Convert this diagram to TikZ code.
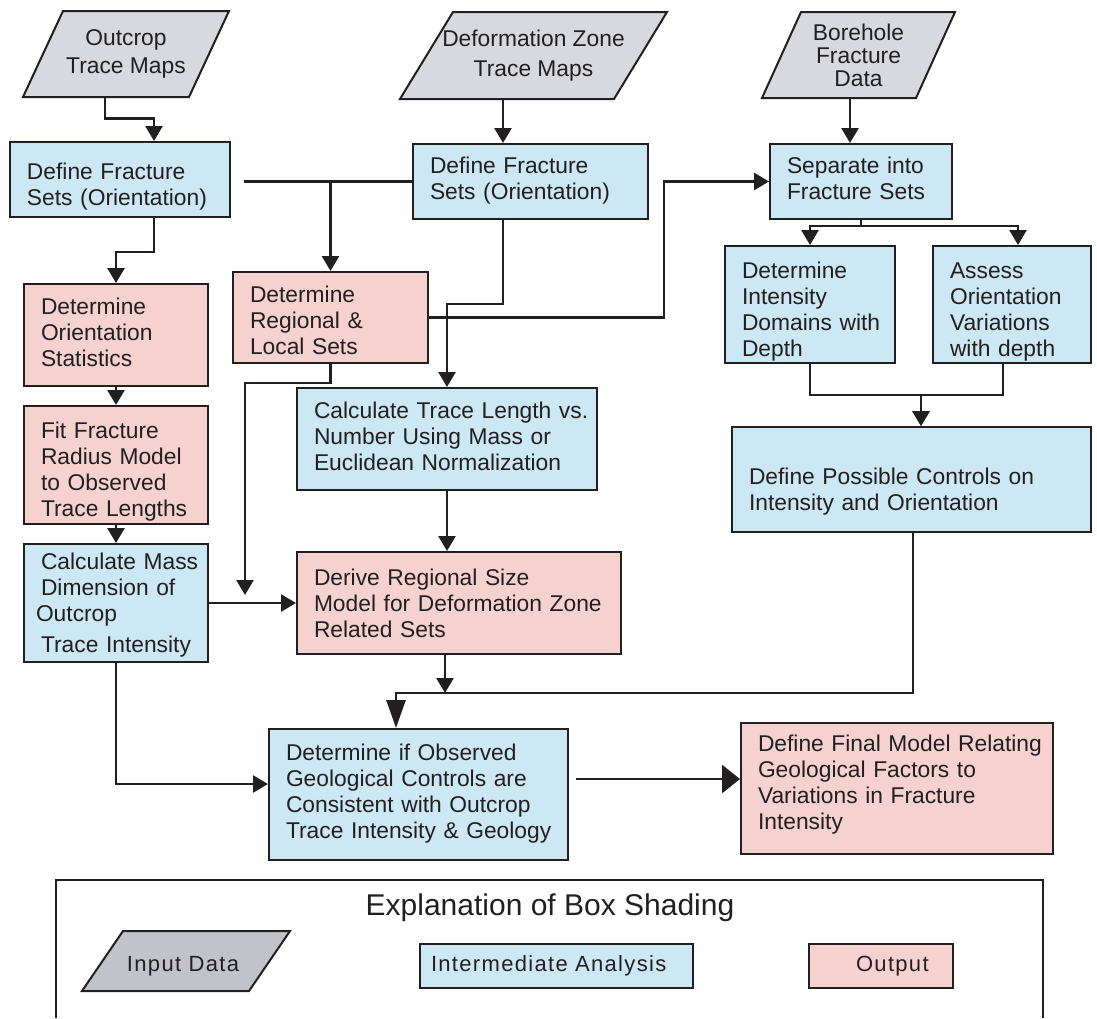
\documentclass[tikz,border=0pt]{standalone}
\usepackage{fontspec}
\setmainfont{Liberation Sans}
\usetikzlibrary{arrows.meta}
\definecolor{ink}{RGB}{35,31,32}
\definecolor{datagray}{RGB}{215,217,222}
\definecolor{keygray}{RGB}{192,195,201}
\definecolor{midblue}{RGB}{203,232,244}
\definecolor{outpink}{RGB}{245,209,208}
\newcommand{\boxfont}{\fontsize{22.8}{26}\selectfont}
\newcommand{\keyfont}{\fontsize{22}{26}\selectfont\addfontfeature{LetterSpace=6}}
\newcommand{\rows}[1]{\begin{tabular}{@{}l@{}}#1\end{tabular}}
\newcommand{\rowsdown}[2]{\raisebox{-#1}[\height][\depth]{\rows{#2}}}
\newcommand{\datanode}[8]{%
	\filldraw[fill=#1, boxline] (#3+#7,#4) -- (#3+#5,#4) -- (#3+#5-#7,#4+#6) -- (#3,#4+#6) -- cycle;
	\node[datatext, minimum width=#5, minimum height=#6] (#2) at (#3+#5/2,#4+#6/2) {#8};}
\tikzset{
	boxline/.style={draw=ink, line width=2pt},
	datatext/.style={inner sep=0pt, align=center, font=\boxfont, text=ink},
	midbox/.style={boxline, fill=midblue, anchor=north west, inner xsep=17pt, inner ysep=3pt, align=left, font=\boxfont, text=ink},
	outbox/.style={midbox, fill=outpink},
	wire/.style={draw=ink, line width=2.7pt},
	conn/.style={wire, -{Triangle[length=15pt,width=17pt]}},
}
\begin{document}
\begin{tikzpicture}[x=1pt, y=-1pt]
	\useasboundingbox (0,0) rectangle (1097,1018);
	
	\datanode{datagray}{in1}{23}{11}{206}{86}{40}{Outcrop\\[2pt]Trace Maps}
	\datanode{datagray}{in2}{400}{12}{267}{87}{53}{Deformation Zone\\[4pt]Trace Maps}
	\datanode{datagray}{in3}{762}{12}{193}{86}{39}{\rowsdown{3pt}{\hfil Borehole\\[-3pt]\hfil Fracture\\[-3pt]\hfil Data}}
	
	\node[midbox, text width=186pt, minimum height=75pt] (def1) at (9,141) {\rowsdown{8pt}{Define Fracture\\Sets (Orientation)}};
	\node[midbox, text width=201pt, minimum height=75pt] (def2) at (412,143) {\rows{Define Fracture\\Sets (Orientation)}};
	\node[midbox, text width=148pt, minimum height=75pt] (sep) at (769,143) {\rows{Separate into\\Fracture Sets}};
	
	\node[outbox, text width=150pt, minimum height=102pt] (ost) at (23,283) {\rows{Determine\\Orientation\\Statistics}};
	\node[outbox, text width=150pt, minimum height=118pt] (fit) at (23,405) {\rowsdown{7pt}{Fit Fracture\\Radius Model\\to Observed\\Trace Lengths}};
	\node[midbox, text width=150pt, minimum height=118pt] (mass) at (23,543) {\rowsdown{3pt}{Calculate Mass\\Dimension of\\\hspace*{-5pt}Outcrop\\[5pt]Trace Intensity}};
	
	\node[outbox, text width=161pt, minimum height=91pt] (reg) at (232,271) {\rowsdown{6pt}{Determine\\Regional \&\\Local Sets}};
	\node[midbox, text width=266pt, minimum height=102pt] (ctl) at (296,387) {\rows{Calculate Trace Length vs.\\Number Using Mass or\\Euclidean Normalization}};
	\node[outbox, text width=290pt, minimum height=102pt] (der) at (296,551) {\rowsdown{3pt}{Derive Regional Size\\Model for Deformation Zone\\Related Sets}};
	
	\node[midbox, text width=136pt, minimum height=117pt] (int) at (724,245) {\rowsdown{8pt}{Determine\\Intensity\\Domains with\\Depth}};
	\node[midbox, text width=124pt, minimum height=117pt] (ass) at (932,245) {\rowsdown{8pt}{Assess\\Orientation\\Variations\\with depth}};
	\node[midbox, text width=325pt, minimum height=105pt] (pos) at (731,426) {\rows{\mbox{}\\Define Possible Controls on\\Intensity and Orientation}};
	
	\node[midbox, text width=265pt, minimum height=131pt] (obs) at (268,728) {\rows{Determine if Observed\\Geological Controls are\\Consistent with Outcrop\\Trace Intensity \& Geology}};
	\node[outbox, text width=278pt, minimum height=131pt] (fin) at (740,722) {\rowsdown{-3pt}{Define Final Model Relating\\Geological Factors to\\Variations in Fracture\\Intensity}};
	
	\coordinate (lnd) at (245,595);
	
	\draw[conn] ([xshift=-21pt]in1.south) -- ++(0,21) -| ([xshift=34pt]def1.north);
	\draw[conn] ([xshift=-27.5pt]def2.north |- in2.south) -- ([xshift=-27.5pt]def2.north);
	\draw[conn] ([xshift=-11pt]sep.north |- in3.south) -- ([xshift=-11pt]sep.north);
	\draw[conn] ([xshift=34pt]def1.south) -- ++(0,34) -| (ost.north);
	\draw[conn] (ost.south) -- (fit.north);
	\draw[conn] (fit.south) -- (mass.north);
	\draw[wire] (def2.west) -- ([xshift=13pt]def1.east |- def2.west);
	\draw[conn] (reg.north |- def2.west) -- (reg.north);
	\draw[conn] ([xshift=-27.5pt]def2.south) -- ++(0,84) -| (ctl.north);
	\draw[conn] (reg.east) -- ++(235,0) |- (sep.west);
	\draw[conn] (reg.south) -- ++(0,19) -| (lnd);
	\draw[conn] (mass.east) -- (mass.east -| der.west);
	\draw[conn] (ctl.south) -- (ctl.south |- der.north);
	\draw[conn] ([xshift=-14pt]der.south) -- ++(0,38);
	\draw[conn] (sep.south) -- ++(0,6) -| (int.north);
	\draw[conn] (sep.south) -- ++(0,6) -| ([xshift=6pt]ass.north);
	\draw[conn] (int.south) -- ++(0,31) -| ([xshift=9.5pt]pos.north);
	\draw[conn] ([xshift=-9pt]ass.south) -- ++(0,31) -| ([xshift=9.5pt]pos.north);
	\draw[wire, -{Triangle[length=28pt,width=19pt]}] ([xshift=1.5pt]pos.south) -- ++(0,160) -| ([xshift=-22.5pt]obs.north);
	\draw[conn] (mass.south) |- ([yshift=10.5pt]obs.west);
	\draw[wire, -{Triangle[length=18pt,width=28pt]}] ([xshift=7pt,yshift=15.5pt]obs.east) -- ([yshift=15.5pt]obs.east -| fin.west);
	
	\draw[boxline] (56,1018) -- (56,880) -- (1043,880) -- (1043,1018);
	\node[text=ink, font=\fontsize{30}{34}\selectfont] (keytitle) at (550,908) {Explanation of Box Shading};
	\datanode{keygray}{keyin}{82}{931}{208}{60}{41}{\keyfont\raisebox{-5pt}[\height][\depth]{\hspace*{-6pt}Input Data}}
	\node[midbox, inner xsep=11pt, text width=251pt, minimum height=44pt, font=\keyfont] (keymid) at (419,943) {\rows{Intermediate Analysis}};
	\node[outbox, inner xsep=47pt, text width=50pt, minimum height=44pt, font=\keyfont] (keyout) at (808,943) {\rows{Output}};
\end{tikzpicture}
\end{document}
